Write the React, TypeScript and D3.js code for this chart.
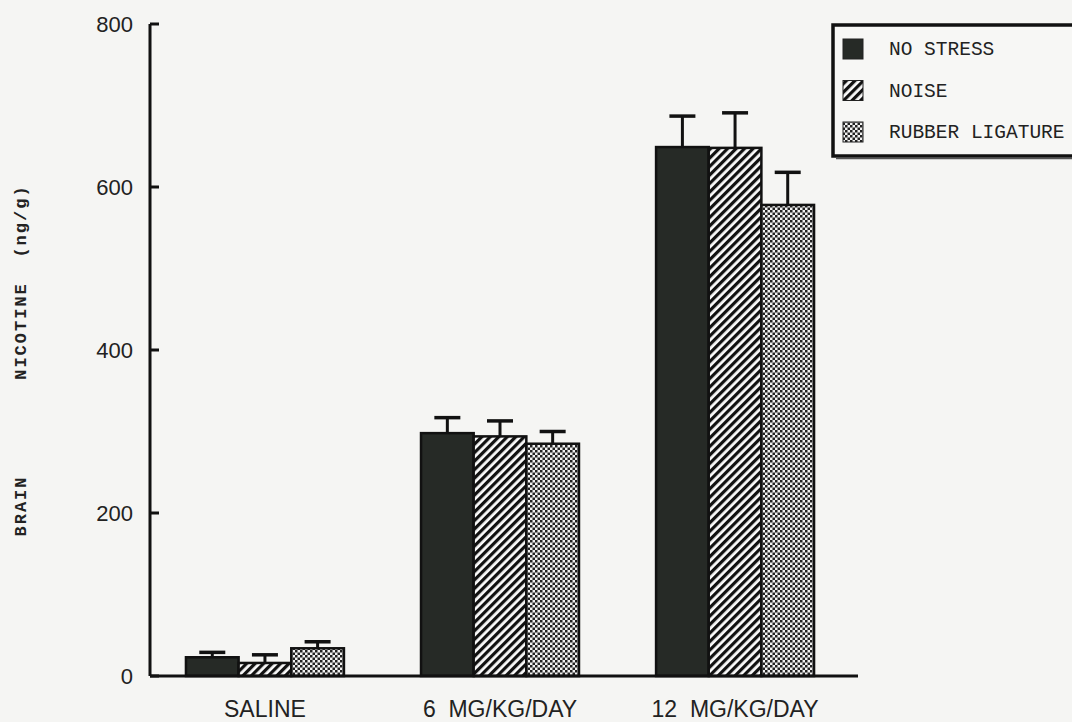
import React, { useEffect, useRef } from 'react';
import * as d3 from 'd3';

const groups = ['SALINE', '6 MG/KG/DAY', '12 MG/KG/DAY'];
const series = ['NO STRESS', 'NOISE', 'RUBBER LIGATURE'];
const means = [
  [23, 16, 34],
  [298, 294, 285],
  [649, 648, 578],
];
const errTops = [
  [29, 26, 42],
  [317, 313, 300],
  [687, 691, 618],
];
const yTicks = [0, 200, 400, 600, 800];

const App: React.FC = () => {
  const svgRef = useRef<SVGSVGElement>(null);

  useEffect(() => {
    if (!svgRef.current) return;
    const width = 1072;
    const height = 722;
    const svg = d3.select(svgRef.current).attr('width', width).attr('height', height);
    svg.selectAll('*').remove();

    svg.append('rect').attr('width', width).attr('height', height).attr('fill', '#f5f5f3');

    const defs = svg.append('defs');
    const hatch = defs.append('pattern')
      .attr('id', 'hatch')
      .attr('patternUnits', 'userSpaceOnUse')
      .attr('width', 6).attr('height', 6)
      .attr('patternTransform', 'rotate(45)');
    hatch.append('rect').attr('width', 6).attr('height', 6).attr('fill', '#fbfbfb');
    hatch.append('rect').attr('width', 3.2).attr('height', 6).attr('fill', '#111');

    const dots = defs.append('pattern')
      .attr('id', 'dots')
      .attr('patternUnits', 'userSpaceOnUse')
      .attr('width', 5).attr('height', 5);
    dots.append('rect').attr('width', 5).attr('height', 5).attr('fill', '#f2f2f2');
    dots.append('rect').attr('width', 2.5).attr('height', 2.5).attr('fill', '#222');
    dots.append('rect').attr('x', 2.5).attr('y', 2.5).attr('width', 2.5).attr('height', 2.5).attr('fill', '#222');

    const fills = ['#262a26', 'url(#hatch)', 'url(#dots)'];

    const x0 = 150;
    const xScale = d3.scaleBand<string>()
      .domain(groups)
      .range([x0, 850])
      .paddingInner(0.328)
      .paddingOuter(0.153);
    const xInner = d3.scaleBand<string>()
      .domain(series)
      .range([0, xScale.bandwidth()]);
    const yScale = d3.scaleLinear().domain([0, 800]).range([676, 24]);

    // bars
    groups.forEach((g, gi) => {
      series.forEach((s, si) => {
        const bx = (xScale(g) as number) + (xInner(s) as number);
        const bw = xInner.bandwidth();
        const cx = bx + bw / 2;
        // error bar
        svg.append('line')
          .attr('x1', cx).attr('x2', cx)
          .attr('y1', yScale(means[gi][si])).attr('y2', yScale(errTops[gi][si]))
          .attr('stroke', '#111').attr('stroke-width', 3);
        svg.append('line')
          .attr('x1', cx - 13).attr('x2', cx + 13)
          .attr('y1', yScale(errTops[gi][si])).attr('y2', yScale(errTops[gi][si]))
          .attr('stroke', '#111').attr('stroke-width', 3.5);
        svg.append('rect')
          .attr('x', bx).attr('y', yScale(means[gi][si]))
          .attr('width', bw).attr('height', yScale(0) - yScale(means[gi][si]))
          .attr('fill', fills[si])
          .attr('stroke', '#111').attr('stroke-width', 2.5);
      });
    });

    // y axis
    svg.append('line')
      .attr('x1', x0).attr('x2', x0)
      .attr('y1', yScale(800)).attr('y2', yScale(0))
      .attr('stroke', '#111').attr('stroke-width', 3);
    yTicks.forEach(t => {
      svg.append('line')
        .attr('x1', x0).attr('x2', x0 + 9)
        .attr('y1', yScale(t)).attr('y2', yScale(t))
        .attr('stroke', '#111').attr('stroke-width', 3);
      svg.append('text')
        .attr('x', x0 - 17).attr('y', yScale(t))
        .attr('dy', '0.36em')
        .attr('text-anchor', 'end')
        .attr('font-family', 'Liberation Sans, Arial, sans-serif')
        .attr('font-size', 22)
        .attr('fill', '#222')
        .text(t);
    });

    // x axis
    svg.append('line')
      .attr('x1', x0).attr('x2', 858)
      .attr('y1', yScale(0)).attr('y2', yScale(0))
      .attr('stroke', '#111').attr('stroke-width', 3);
    groups.forEach(g => {
      svg.append('text')
        .attr('x', (xScale(g) as number) + xScale.bandwidth() / 2)
        .attr('y', 717)
        .attr('text-anchor', 'middle')
        .attr('font-family', 'Liberation Sans, Arial, sans-serif')
        .attr('font-size', 23)
        .attr('fill', '#222')
        .attr('xml:space', 'preserve')
        .text(g.replace(' ', '  '));
    });

    // y label
    const labelParts = [
      { t: 'BRAIN', y: 506 },
      { t: 'NICOTINE', y: 331 },
      { t: '(ng/g)', y: 221 },
    ];
    labelParts.forEach(p => {
      svg.append('text')
        .attr('transform', `translate(26,${p.y}) rotate(-90)`)
        .attr('text-anchor', 'middle')
        .attr('font-family', 'Liberation Mono, Courier New, monospace')
        .attr('font-weight', 'bold')
        .attr('font-size', 17)
        .attr('letter-spacing', 2)
        .attr('fill', '#222')
        .text(p.t);
    });

    // legend
    const lg = svg.append('g');
    lg.append('rect')
      .attr('x', 833).attr('y', 25)
      .attr('width', 260).attr('height', 131)
      .attr('fill', '#f7f7f5')
      .attr('stroke', '#111').attr('stroke-width', 3.5);
    lg.append('line')
      .attr('x1', 836).attr('x2', 1072).attr('y1', 158.5).attr('y2', 158.5)
      .attr('stroke', '#555').attr('stroke-width', 1.5);
    series.forEach((s, i) => {
      const cy = 49 + i * 41.5;
      lg.append('rect')
        .attr('x', 843).attr('y', cy - 10)
        .attr('width', 20).attr('height', 20)
        .attr('fill', fills[i])
        .attr('stroke', '#222').attr('stroke-width', 1);
      lg.append('text')
        .attr('x', 889).attr('y', cy + 6)
        .attr('font-family', 'Liberation Mono, Courier New, monospace')
        .attr('font-size', 19.5)
        .attr('fill', '#222')
        .text(s);
    });
  }, []);

  return <svg ref={svgRef} style={{ position: 'absolute', left: 0, top: 0, display: 'block' }}></svg>;
};

export default App;
